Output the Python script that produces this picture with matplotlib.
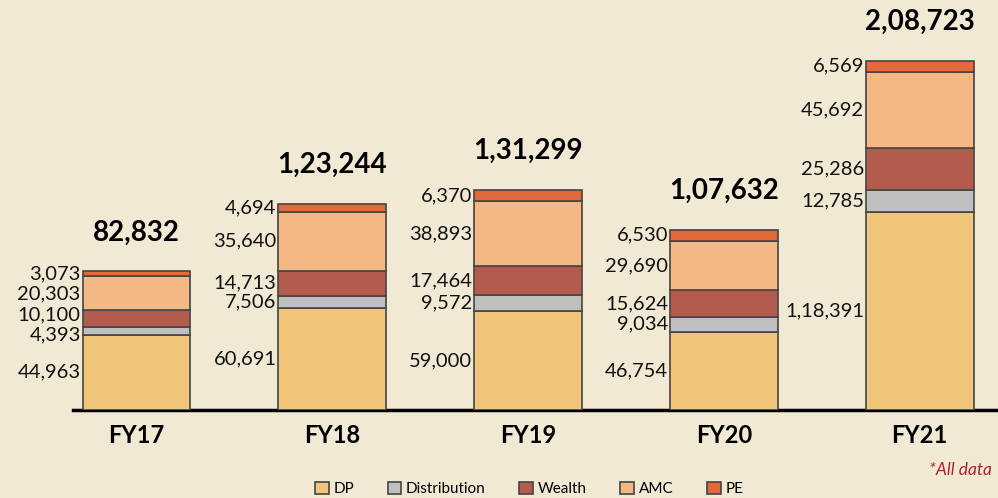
import matplotlib.pyplot as plt
import numpy as np

years = ['FY17', 'FY18', 'FY19', 'FY20', 'FY21']
segments = ['DP', 'Distribution', 'Wealth', 'AMC', 'PE']
dp = [44963, 60691, 59000, 46754, 118391]
distribution = [4393, 7506, 9572, 9034, 12785]
wealth = [10100, 14713, 17464, 15624, 25286]
amc = [20303, 35640, 38893, 29690, 45692]
pe = [3073, 4694, 6370, 6530, 6569]
totals = [82832, 123244, 131299, 107632, 208723]

seg_colors = ['#f0c67a', '#c0c0c0', '#b35c4d', '#f3b884', '#e3683a']


def indian(n):
    s = str(n)
    if len(s) <= 3:
        return s
    head, tail = s[:-3], s[-3:]
    parts = []
    while len(head) > 2:
        parts.insert(0, head[-2:])
        head = head[:-2]
    if head:
        parts.insert(0, head)
    return ','.join(parts) + ',' + tail


plt.rcParams['font.family'] = ['Lato', 'DejaVu Sans']

fig = plt.figure(figsize=(9.98, 4.98), dpi=100)
fig.patch.set_facecolor('#f2e9d4')
ax = fig.add_axes([0.073, 0.177, 0.927, 0.823])
ax.set_facecolor('none')

x = np.arange(len(years))
width = 0.55
series = [dp, distribution, wealth, amc, pe]
bottom = np.zeros(len(years))
label_pos = [[] for _ in years]
for name, vals, col in zip(segments, series, seg_colors):
    vals = np.array(vals)
    ax.bar(x, vals, width, bottom=bottom, color=col, edgecolor='#444444',
           linewidth=1.2, label=name, zorder=3)
    for i in range(len(years)):
        label_pos[i].append((bottom[i] + vals[i] / 2, vals[i]))
    bottom += vals

# nudge segment labels so they don't overlap
min_gap = 11500
for i in range(len(years)):
    ys = [p[0] for p in label_pos[i]]
    for _ in range(50):
        for k in range(len(ys) - 1):
            d = ys[k + 1] - ys[k]
            if d < min_gap:
                ys[k] -= (min_gap - d) / 2
                ys[k + 1] += (min_gap - d) / 2
    for yv, (_, v) in zip(ys, label_pos[i]):
        ax.text(x[i] - width / 2 - 0.01, yv, indian(int(v)), ha='right',
                va='center', fontsize=14.5, color='#111111')

for i, t in enumerate(totals):
    ax.annotate(indian(t), (x[i], t), xytext=(0, 28), textcoords='offset points',
                ha='center', va='center', fontsize=20, fontweight='bold')

ax.set_xlim(-0.325, 4.40)
ax.set_ylim(0, 245000)
ax.set_xticks(x)
ax.set_xticklabels(years, fontsize=17, fontweight='bold')
ax.tick_params(axis='x', length=0, pad=10)
ax.set_yticks([])
for s in ['top', 'right', 'left']:
    ax.spines[s].set_visible(False)
ax.spines['bottom'].set_linewidth(2.5)

fig.legend(loc='center', bbox_to_anchor=(0.53, 0.018), ncol=5, frameon=False,
           fontsize=11, handlelength=0.9, handleheight=0.9, handletextpad=0.3,
           columnspacing=2.2)
fig.text(0.994, 0.056, '*All data', color='#b0202c', fontsize=12.5, style='italic',
         ha='right', va='center')

fig.savefig('out.png', dpi=100, facecolor=fig.get_facecolor())
